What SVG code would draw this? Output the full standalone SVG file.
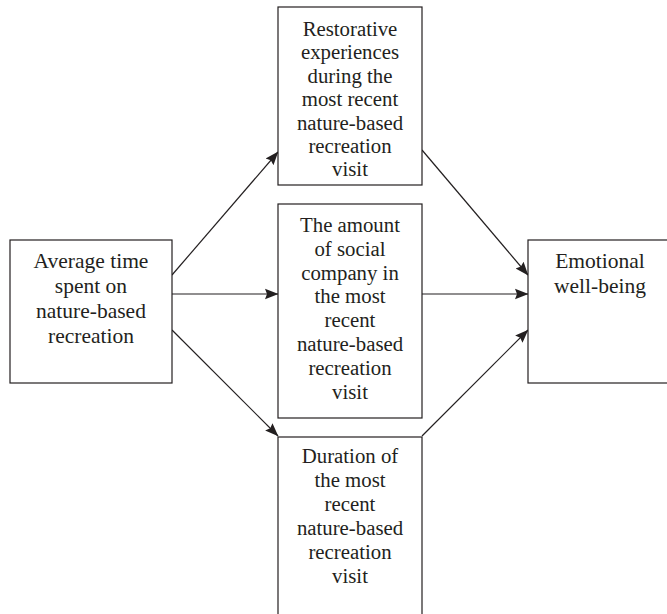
<svg xmlns="http://www.w3.org/2000/svg" width="667" height="614" viewBox="0 0 667 614">
<style>
.box{fill:#fff;stroke:#231f20;stroke-width:1.2}
.t{font-family:"Liberation Serif","Times New Roman",serif;fill:#231f20;text-anchor:middle}
.big{font-size:21.5px}
.sm{font-size:20.8px}
.c{stroke:#231f20;stroke-width:1.2;fill:none}
</style>
<defs>
<marker id="ah" markerWidth="14" markerHeight="12" refX="13" refY="6" orient="auto" markerUnits="userSpaceOnUse">
<path d="M0,0.8 L13.5,6 L0,11.2 L2,6 Z" fill="#231f20"/>
</marker>
</defs>
<rect width="667" height="614" fill="#fff"/>
<g id="connectors">
<line class="c" x1="172" y1="275" x2="278" y2="152" marker-end="url(#ah)"/>
<line class="c" x1="172" y1="294" x2="278" y2="294" marker-end="url(#ah)"/>
<line class="c" x1="172" y1="330" x2="278" y2="436" marker-end="url(#ah)"/>
<line class="c" x1="422" y1="150" x2="528" y2="275" marker-end="url(#ah)"/>
<line class="c" x1="422" y1="294" x2="528" y2="294" marker-end="url(#ah)"/>
<line class="c" x1="422" y1="436" x2="528" y2="330" marker-end="url(#ah)"/>
</g>
<g id="avg">
<rect class="box" x="10" y="240" width="162" height="143"/>
<text class="t big" x="91" y="268">Average time</text>
<text class="t big" x="91" y="293">spent on</text>
<text class="t big" x="91" y="318">nature-based</text>
<text class="t big" x="91" y="343">recreation</text>
</g>
<g id="restorative">
<rect class="box" x="278" y="7" width="144" height="178"/>
<text class="t sm" x="350" y="36">Restorative</text>
<text class="t sm" x="350" y="59.4">experiences</text>
<text class="t sm" x="350" y="82.8">during the</text>
<text class="t sm" x="350" y="106.2">most recent</text>
<text class="t sm" x="350" y="129.6">nature-based</text>
<text class="t sm" x="350" y="153">recreation</text>
<text class="t sm" x="350" y="176.4">visit</text>
</g>
<g id="social">
<rect class="box" x="278" y="204" width="144" height="214"/>
<text class="t sm" x="350" y="231.7">The amount</text>
<text class="t sm" x="350" y="255.6">of social</text>
<text class="t sm" x="350" y="279.5">company in</text>
<text class="t sm" x="350" y="303.4">the most</text>
<text class="t sm" x="350" y="327.3">recent</text>
<text class="t sm" x="350" y="351.3">nature-based</text>
<text class="t sm" x="350" y="375.2">recreation</text>
<text class="t sm" x="350" y="399.2">visit</text>
</g>
<g id="duration">
<rect class="box" x="278" y="437" width="144" height="190"/>
<text class="t sm" x="350" y="463.3">Duration of</text>
<text class="t sm" x="350" y="487.3">the most</text>
<text class="t sm" x="350" y="511.3">recent</text>
<text class="t sm" x="350" y="535.3">nature-based</text>
<text class="t sm" x="350" y="559.3">recreation</text>
<text class="t sm" x="350" y="583.3">visit</text>
</g>
<g id="wellbeing">
<rect class="box" x="528" y="240" width="150" height="143"/>
<text class="t big" x="600" y="268">Emotional</text>
<text class="t big" x="600" y="293">well-being</text>
</g>
</svg>
